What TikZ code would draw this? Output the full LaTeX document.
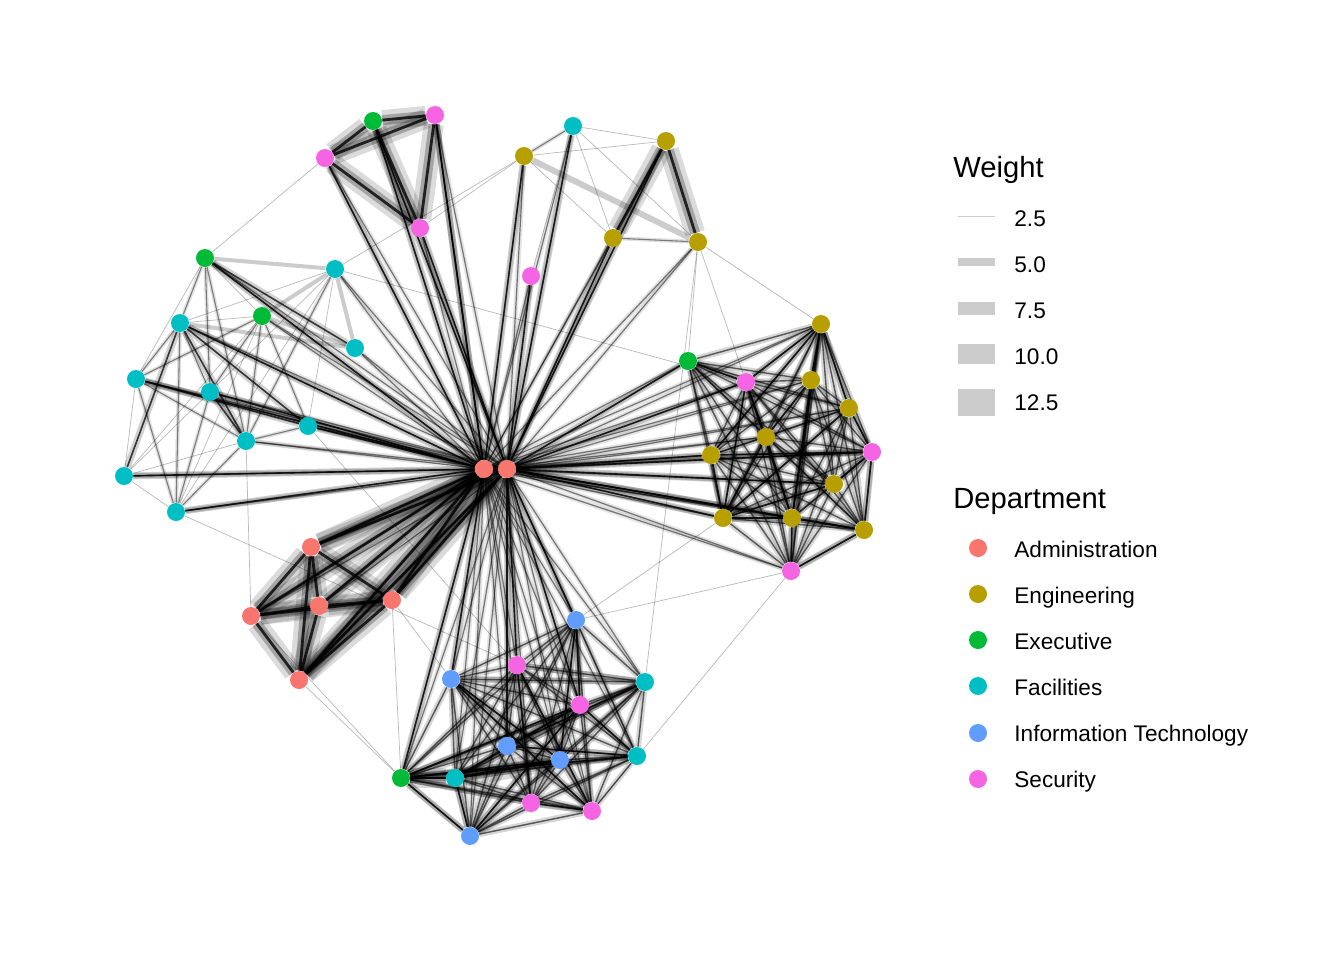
\documentclass[tikz,border=0pt]{standalone}
\usepackage{fontspec}
\setmainfont{Liberation Sans}
\pgfdeclarelayer{bg}
\pgfsetlayers{bg,main}
\definecolor{cA}{HTML}{F8766D}
\definecolor{cE}{HTML}{B79F00}
\definecolor{cX}{HTML}{00BA38}
\definecolor{cF}{HTML}{00BFC4}
\definecolor{cI}{HTML}{619CFF}
\definecolor{cS}{HTML}{F564E3}
\definecolor{lg}{HTML}{CCCCCC}
\begin{document}
\begin{tikzpicture}[x=0.5pt,y=-0.5pt,
  dot/.style={circle,inner sep=0pt,minimum size=9pt,draw=none},
  lt/.style={black,opacity=.28,line width=.35pt},
  md/.style={black,opacity=.45,line width=.55pt,preaction={draw,black,opacity=.12,line width=2pt}},
  cl/.style={black,opacity=.6,line width=.7pt,preaction={draw,black,opacity=.16,line width=3pt}},
  dk/.style={black,opacity=.75,line width=.8pt,preaction={draw,black,opacity=.18,line width=3.5pt}},
  thk/.style={black,opacity=.8,line width=1.4pt,preaction={draw,black,opacity=.14,line width=10pt},preaction={draw,black,opacity=.25,line width=5pt}},
  lband/.style={black,opacity=.2,line width=2pt},
  wband/.style={black,opacity=.2,line width=3pt},
  hub/.style={black,opacity=.5,line width=.6pt,preaction={draw,black,opacity=.1,line width=2.5pt}},
  ttl/.style={font=\fontsize{14.6pt}{16pt}\selectfont,anchor=base west,inner sep=0pt},
  lab/.style={font=\fontsize{11.3pt}{13pt}\selectfont,anchor=base west,inner sep=0pt},
  leg/.style={lg,line cap=butt}
]
\useasboundingbox (0,0) rectangle (1344,960);
% Administration
\node[dot,fill=cA] (A1) at (484,469) {};
\node[dot,fill=cA] (A2) at (507,469) {};
\node[dot,fill=cA] (A3) at (311,547) {};
\node[dot,fill=cA] (A4) at (251,616) {};
\node[dot,fill=cA] (A5) at (319,606) {};
\node[dot,fill=cA] (A6) at (392,600) {};
\node[dot,fill=cA] (A7) at (299,680) {};
% Engineering
\node[dot,fill=cE] (E1) at (524,156) {};
\node[dot,fill=cE] (E2) at (666,141) {};
\node[dot,fill=cE] (E3) at (613,238) {};
\node[dot,fill=cE] (E4) at (698,242) {};
\node[dot,fill=cE] (E5) at (821,324) {};
\node[dot,fill=cE] (E6) at (811,380) {};
\node[dot,fill=cE] (E7) at (849,408) {};
\node[dot,fill=cE] (E8) at (766,437) {};
\node[dot,fill=cE] (E9) at (711,455) {};
\node[dot,fill=cE] (E10) at (834,484) {};
\node[dot,fill=cE] (E11) at (723,518) {};
\node[dot,fill=cE] (E12) at (792,518) {};
\node[dot,fill=cE] (E13) at (864,530) {};
% Executive
\node[dot,fill=cX] (X1) at (373,121) {};
\node[dot,fill=cX] (X2) at (205,258) {};
\node[dot,fill=cX] (X3) at (262,316) {};
\node[dot,fill=cX] (X4) at (688,361) {};
\node[dot,fill=cX] (X5) at (401,778) {};
% Facilities
\node[dot,fill=cF] (F1) at (573,126) {};
\node[dot,fill=cF] (F2) at (335,269) {};
\node[dot,fill=cF] (F3) at (180,323) {};
\node[dot,fill=cF] (F4) at (355,348) {};
\node[dot,fill=cF] (F5) at (136,379) {};
\node[dot,fill=cF] (F6) at (210,392) {};
\node[dot,fill=cF] (F7) at (246,441) {};
\node[dot,fill=cF] (F8) at (308,426) {};
\node[dot,fill=cF] (F9) at (124,476) {};
\node[dot,fill=cF] (F10) at (176,512) {};
\node[dot,fill=cF] (F11) at (645,682) {};
\node[dot,fill=cF] (F12) at (637,756) {};
\node[dot,fill=cF] (F13) at (455,778) {};
% IT
\node[dot,fill=cI] (I1) at (576,620) {};
\node[dot,fill=cI] (I2) at (451,679) {};
\node[dot,fill=cI] (I3) at (507,746) {};
\node[dot,fill=cI] (I4) at (560,760) {};
\node[dot,fill=cI] (I5) at (470,836) {};
% Security
\node[dot,fill=cS] (S1) at (435,115) {};
\node[dot,fill=cS] (S2) at (325,158) {};
\node[dot,fill=cS] (S3) at (420,228) {};
\node[dot,fill=cS] (S4) at (531,276) {};
\node[dot,fill=cS] (S5) at (746,382) {};
\node[dot,fill=cS] (S6) at (872,452) {};
\node[dot,fill=cS] (S7) at (791,571) {};
\node[dot,fill=cS] (S8) at (517,665) {};
\node[dot,fill=cS] (S9) at (580,705) {};
\node[dot,fill=cS] (S10) at (531,803) {};
\node[dot,fill=cS] (S11) at (592,811) {};

\begin{pgfonlayer}{bg}
\def\allN{S1,X1,S2,S3,F1,E1,E2,E3,E4,S4,X2,F2,F3,X3,F4,F5,F6,F7,F8,F9,F10,X4,S5,E5,E6,E7,E8,E9,E10,E11,E12,E13,S6,S7,A3,A4,A5,A6,A7,I1,S8,I2,F11,S9,I3,I4,F12,X5,F13,S10,S11,I5}
\foreach \b in \allN {\draw[hub] (A1) -- (\b); \draw[hub] (A2) -- (\b);}
\draw[lt] (A1) -- (A2);
% right cluster
\def\RC{X4,S5,E5,E6,E7,E8,E9,E10,E11,E12,E13,S6,S7}
\foreach \a [count=\i] in \RC {\foreach \b [count=\j] in \RC {\ifnum\j>\i \draw[cl] (\a) -- (\b);\fi}}
% bottom cluster
\def\BC{I1,S8,I2,F11,S9,I3,I4,F12,X5,F13,S10,S11,I5}
\foreach \a [count=\i] in \BC {\foreach \b [count=\j] in \BC {\ifnum\j>\i \draw[cl] (\a) -- (\b);\fi}}
% admin cluster
\def\AC{A3,A4,A5,A6,A7}
\foreach \a [count=\i] in \AC {\foreach \b [count=\j] in \AC {\ifnum\j>\i \draw[thk] (\a) -- (\b);\fi}}
\foreach \a/\b in {A1/A3,A1/A4,A1/A5,A1/A7,A2/A6,A1/A6,A2/A3,A2/A7}{\draw[thk] (\a) -- (\b);}
% top-left
\foreach \a/\b in {S1/X1,S1/S2,S1/S3,X1/S2,X1/S3,S2/S3}{\draw[thk] (\a) -- (\b);}
% top-right
\foreach \a/\b in {F1/E1,E3/E4}{\draw[md] (\a) -- (\b);}
\foreach \a/\b in {F1/E2,E1/E2,F1/E3,E1/E3,F1/E4,F1/S4,X2/S2,E1/S3,F2/E1,F2/S5,E4/F11,S7/S11,I1/S7,I1/E11,F10/S8,F7/A4,A6/I2,A7/X5,A4/X5,F8/S8,X5/A6,E4/E5,E4/S5,E4/X4}{\draw[lt] (\a) -- (\b);}
\draw[wband] (E1) -- (E4);
\foreach \a/\b in {E2/E3,E2/E4}{\draw[thk] (\a) -- (\b);}
% hub extras
\foreach \a/\b in {A1/S1,A1/S2,A1/X1,A2/S3,A2/E3,A2/F1,A1/E1,A2/E2,A2/S4,A1/F5,A1/F9,A1/F10,A1/F6,A1/F8,A1/X2,A1/F3,A2/E9,A2/E11,A2/E12,A2/E13,A2/S6,A2/E10,A2/X4,A2/S5,A2/I1,A2/S8,A2/I3,A2/S9,A1/I2,A1/X5,A1/S1,A2/X1}{\draw[dk] (\a) -- (\b);}
% left cluster
\foreach \a/\b in {X2/F3,X2/F7,X2/F6,F3/F5,F3/F6,F3/F10,X3/F7,X3/F6,X3/F8,X3/F5,F2/F7,F5/F7,F5/F10,F6/F10,F7/F10,F7/F8}{\draw[md] (\a) -- (\b);}
\foreach \a/\b in {X2/F5,X2/X3,F3/X3,F3/F2,X3/F10,X3/F9,F2/F6,F2/F8,F2/F10,F5/F9,F6/F9,F6/F8,F7/F9,F9/F10}{\draw[lt] (\a) -- (\b);}
\foreach \a/\b in {X2/F4,F3/F9,F3/F7,F3/F8,F5/F8,F6/F7}{\draw[dk] (\a) -- (\b);}
\foreach \a/\b in {X2/F2,F3/F4,X3/F4,F2/F4,F2/X3}{\draw[lband] (\a) -- (\b);}
% right extras
\foreach \a/\b in {E5/E6,E5/E7,E5/E12,E5/S5,E5/E9,S5/E12,S5/E11,S5/E8,E8/E12,E9/E11,E11/E12,E12/E13,S6/E13,E7/S6,E6/E12,E8/E11,S6/E9,E6/E8,E7/E11,E10/E11,S7/E12,S7/E13,E10/S6,X4/S5}{\draw[dk] (\a) -- (\b);}
% bottom extras
\foreach \a/\b in {X5/F13,F13/I4}{\draw[thk] (\a) -- (\b);}
\foreach \a/\b in {X5/I4,I3/F12,S8/S10,I1/S9,I1/I4,S9/F13,I2/I4,S10/S11,I5/F13,F12/X5,I3/F11,S9/F12,S8/S11,I2/S11,I5/S9,X5/S9,X5/I5}{\draw[dk] (\a) -- (\b);}
\foreach \a/\b in {F11/F13,S8/F11,I2/F11,X5/S10}{\draw[wband] (\a) -- (\b);}
\end{pgfonlayer}

% legend: Weight
\node[ttl] (wt) at (953,177) {Weight};
\coordinate (w1a) at (958,216); \coordinate (w1b) at (995,216);
\coordinate (w2a) at (958,262); \coordinate (w2b) at (995,262);
\coordinate (w3a) at (958,308); \coordinate (w3b) at (995,308);
\coordinate (w4a) at (958,354); \coordinate (w4b) at (995,354);
\coordinate (w5a) at (958,402); \coordinate (w5b) at (995,402);
\draw[leg,line width=.5pt] (w1a) -- (w1b);
\draw[leg,line width=4pt] (w2a) -- (w2b);
\draw[leg,line width=6.5pt] (w3a) -- (w3b);
\draw[leg,line width=10pt] (w4a) -- (w4b);
\draw[leg,line width=13.5pt] (w5a) -- (w5b);
\node[lab] (l1) at (1014,226) {2.5};
\node[lab] (l2) at (1014,272) {5.0};
\node[lab] (l3) at (1014,318) {7.5};
\node[lab] (l4) at (1014,364) {10.0};
\node[lab] (l5) at (1014,410) {12.5};
% legend: Department
\node[ttl] (dp) at (953,508) {Department};
\node[dot,fill=cA] (d1) at (978,548) {};
\node[dot,fill=cE] (d2) at (978,594) {};
\node[dot,fill=cX] (d3) at (978,640) {};
\node[dot,fill=cF] (d4) at (978,686) {};
\node[dot,fill=cI] (d5) at (978,733) {};
\node[dot,fill=cS] (d6) at (978,779) {};
\node[lab] (t1) at (1014,557) {Administration};
\node[lab] (t2) at (1014,603) {Engineering};
\node[lab] (t3) at (1014,649) {Executive};
\node[lab] (t4) at (1014,695) {Facilities};
\node[lab] (t5) at (1014,741) {Information Technology};
\node[lab] (t6) at (1014,787) {Security};
\end{tikzpicture}
\end{document}
